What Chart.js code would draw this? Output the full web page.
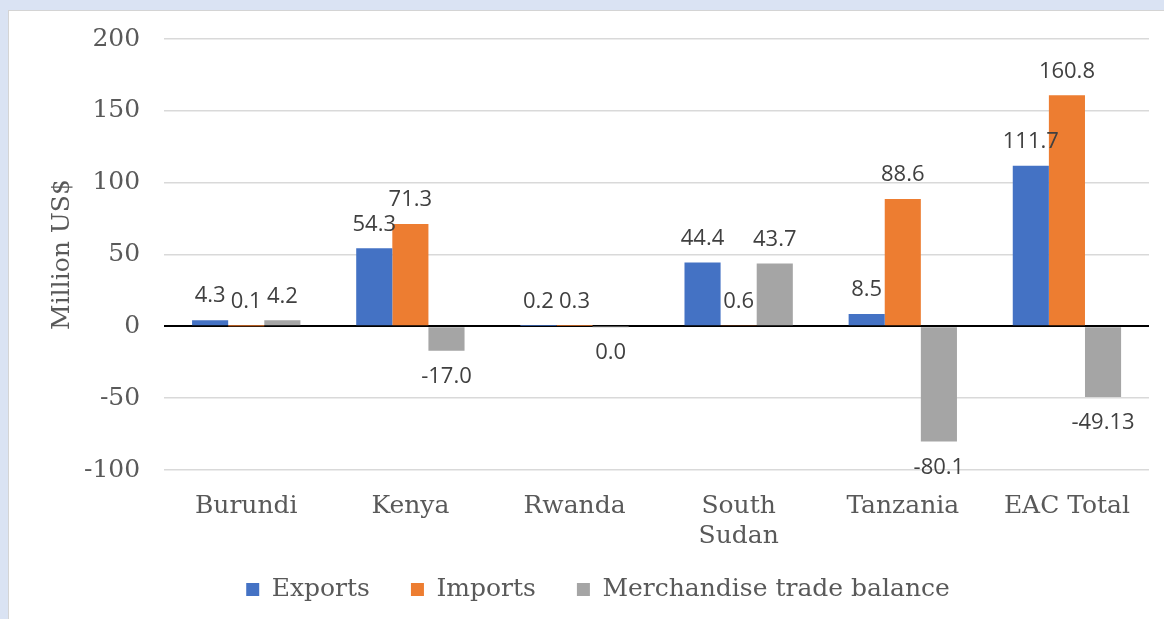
<!DOCTYPE html>
<html>
<head>
<meta charset="utf-8">
<script src="https://cdn.jsdelivr.net/npm/chart.js@4"></script>
<style>
  html, body { margin: 0; padding: 0; }
  body { width: 1164px; height: 619px; background: #dae3f3; overflow: hidden; position: relative; }
  #frame { position: absolute; left: 8px; top: 10px; width: 1160px; height: 608px; background: #fff; border: 1px solid #d4d4d4; }
</style>
</head>
<body>
<div id="frame"><canvas id="chart"></canvas></div>
<script>
const categories = ['Burundi', 'Kenya', 'Rwanda', ['South', 'Sudan'], 'Tanzania', 'EAC Total'];
const exportsVals = [4.3, 54.3, 0.2, 44.4, 8.5, 111.7];
const importsVals = [0.1, 71.3, 0.3, 0.6, 88.6, 160.8];
const balanceVals = [4.2, -17.0, -0.04, 43.7, -80.1, -49.13];
const yTicks = [-100, -50, 0, 50, 100, 150, 200];

const serif = "'DejaVu Serif', serif";

function fmt(v) {
    if (Math.abs(v) < 0.05) return '0.0';
    if (Math.abs(Math.round(v * 100) % 10) !== 0) return v.toFixed(2);
    return v.toFixed(1);
}

// simple outside-end data labels
const barLabels = {
    id: 'barLabels',
    afterDatasetsDraw(chart) {
        const ctx = chart.ctx;
        ctx.save();
        ctx.font = "22px 'Open Sans', sans-serif";
        ctx.fillStyle = '#404040';
        ctx.textAlign = 'center';
        ctx.textBaseline = 'middle';
        chart.data.datasets.forEach((ds, i) => {
            const meta = chart.getDatasetMeta(i);
            meta.data.forEach((bar, j) => {
                const v = ds.data[j];
                const y = v >= 0 ? bar.y - 24 : bar.y + 26;
                ctx.fillText(fmt(v), bar.x, y);
            });
        });
        ctx.restore();
    }
};

// pull the legend row up a bit, closer to the category labels
const legendNudge = {
    id: 'legendNudge',
    afterLayout(chart) {
        const lg = chart.legend;
        if (!lg) return;
        lg.top -= 13;
        lg.bottom -= 13;
    }
};

new Chart(document.getElementById('chart'), {
    type: 'bar',
    data: {
        labels: categories,
        datasets: [
            { label: 'Exports', data: exportsVals, backgroundColor: '#4472c4' },
            { label: 'Imports', data: importsVals, backgroundColor: '#ed7d31' },
            { label: 'Merchandise trade balance', data: balanceVals, backgroundColor: '#a5a5a5' }
        ]
    },
    options: {
        responsive: true,
        maintainAspectRatio: false,
        animation: false,
        layout: { padding: { left: 38, right: 20, top: 0, bottom: -6 } },
        datasets: { bar: { categoryPercentage: 0.66, barPercentage: 1.0 } },
        plugins: {
            legend: {
                position: 'bottom',
                labels: {
                    font: { family: serif, size: 25 },
                    color: '#595959',
                    boxWidth: 13,
                    boxHeight: 13,
                    padding: 41
                }
            },
            tooltip: { enabled: false }
        },
        scales: {
            y: {
                min: yTicks[0],
                max: yTicks[yTicks.length - 1],
                afterBuildTicks: axis => { axis.ticks = yTicks.map(v => ({ value: v })); },
                afterFit: axis => { axis.paddingTop = 28; },
                ticks: {
                    font: { family: serif, size: 25 },
                    color: '#595959',
                    padding: 24
                },
                grid: {
                    color: c => c.tick && c.tick.value === 0 ? '#000000' : '#d9d9d9',
                    lineWidth: c => c.tick && c.tick.value === 0 ? 2 : 1.5,
                    drawTicks: false
                },
                border: { display: false },
                title: {
                    display: true,
                    text: 'Million US$',
                    font: { family: serif, size: 25 },
                    color: '#595959',
                    padding: { top: 0, bottom: -17 }
                }
            },
            x: {
                afterFit: axis => { axis.height = 79; },
                ticks: {
                    font: { family: serif, size: 25 },
                    color: '#595959',
                    padding: 13,
                    maxRotation: 0
                },
                grid: { display: false },
                border: { display: false }
            }
        }
    },
    plugins: [barLabels, legendNudge]
});
</script>
</body>
</html>
